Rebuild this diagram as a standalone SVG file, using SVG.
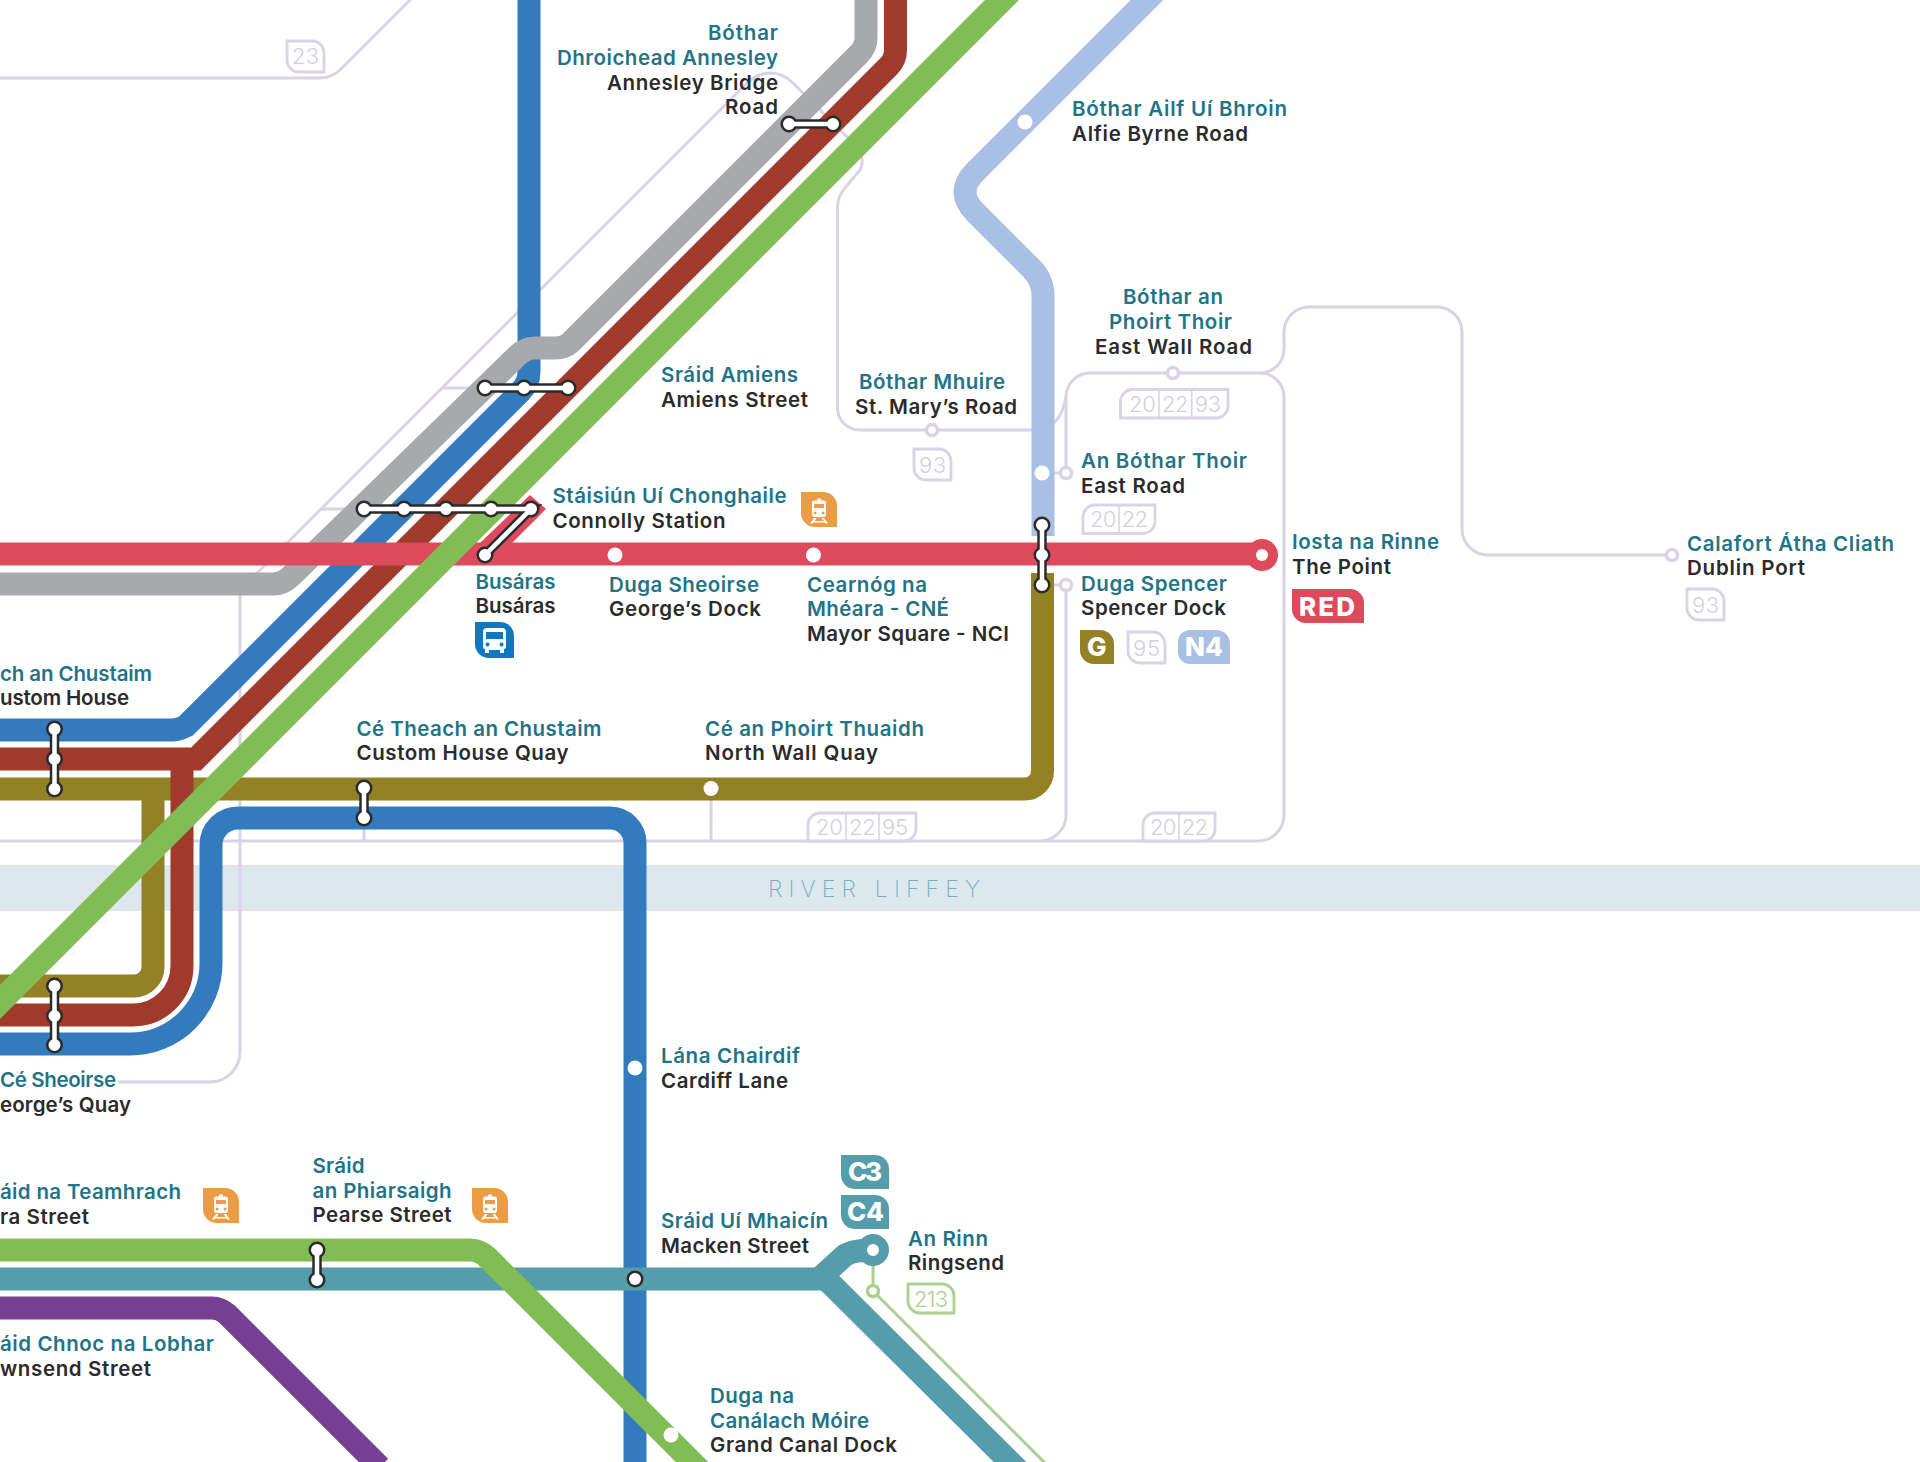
<svg xmlns="http://www.w3.org/2000/svg" xmlns:xlink="http://www.w3.org/1999/xlink" width="1920" height="1462" viewBox="0 0 1920 1462">
<style>
text{font-family:"Inter","Liberation Sans",sans-serif;font-size:20.5px;font-weight:600}
.g{fill:#1f7487}.e{fill:#2b2b2b}
.l{fill:none;stroke-width:23}
.t{fill:none;stroke:#dad2e7;stroke-width:3}
.r{fill:#fff;stroke:#dad2e7;stroke-width:3.5}
.tag{fill:#fff;stroke:#dad2e7;stroke-width:2.8}
.tt{fill:#d5cee3;font-size:22px;font-weight:300}
.wt{fill:#fff;font-size:26px;font-weight:800}
.a{fill:none;stroke:#2b2b2b;stroke-width:17;stroke-linecap:round}
.b{fill:none;stroke:#2b2b2b;stroke-width:9.5}
.c{fill:none;stroke:#fff;stroke-width:12;stroke-linecap:round}
.d{fill:none;stroke:#fff;stroke-width:4.5}
.w{fill:#fff}
</style>
<defs>
<path id="leaf" d="M0 0H25A12 12 0 0 1 37 12V31H12A12 12 0 0 1 0 19Z"/>
<g id="train">
<path d="M0 0H22A14 14 0 0 1 36 14V35H14A14 14 0 0 1 0 21Z" fill="#eb9c45"/>
<path class="w" d="M13.500 8.500H16V6.500H20V8.500H22.500Q25 8.500 25 11V22Q25 25 22.500 25H13.500Q11 25 11 22V11Q11 8.500 13.500 8.500ZM13 12V16H23V12ZM14 19.500A1.500 1.500 0 1 0 14.100 19.500ZM22 19.500A1.500 1.500 0 1 0 22.100 19.500ZM13 26H15.500L13.500 29H23L20.500 26H23L27 31.500H24.500L23.500 30.500H12.500L11.500 31.500H9Z"/>
</g>
<g id="bus">
<path d="M0 0H25A14 14 0 0 1 39 14V36H14A14 14 0 0 1 0 22Z" fill="#1078c2"/>
<path class="w" d="M12 6H27Q31 6 31 10V25Q31 27 29 27V31H25V28H14V31H10V27Q8 27 8 25V10Q8 6 12 6ZM11 10V17H28V10ZM12.500 20.500A2 2 0 1 0 12.600 20.500ZM26.500 20.500A2 2 0 1 0 26.600 20.500Z"/>
</g>
</defs>
<rect width="1920" height="1462" fill="#fff"/>
<rect id="river" x="0" y="865" width="1920" height="46" fill="#dde8ee"/>
<text x="768" y="897" textLength="212" style="font-size:23px;font-weight:200;fill:#72b1bc">RIVER LIFFEY</text>

<g id="connectors">
<g id="bus-routes">
<path class="t" d="M-5 78H320Q332 78 341 69L412 -2"/>
<path class="t" d="M237 593L745 85Q757 73 770 73Q783 73 793 83L855 145Q866 157 860 170L845 188Q837.500 196 837.500 208V408A22 22 0 0 0 859.500 430H1035Q1060 430 1066 397"/>
<path class="t" d="M240 595V1052A30 30 0 0 1 210 1082H118"/>
<path class="t" d="M442 388H468M321 509H346M1042 473H1066M1042 585H1066M364 829V841M711 789V841"/>
<path class="t" d="M0 841H1040A26 26 0 0 0 1066 815V585M1066 473V397A24 24 0 0 1 1090 373H1260A24 24 0 0 1 1284 397V815A26 26 0 0 1 1258 841H1040"/>
<path class="t" d="M1260 373A24 24 0 0 0 1284 349V332A25 25 0 0 1 1309 307H1437A25 25 0 0 1 1462 332V529A26 26 0 0 0 1488 555H1672"/>
<path d="M873 1250V1291L1047 1465" fill="none" stroke="#a9d18e" stroke-width="3"/>
</g>
<path class="l" stroke="#948126" d="M-10 789H1024A18 18 0 0 0 1042.500 771V573"/>
<path class="l" stroke="#948126" d="M-10 986H134A19 19 0 0 0 153 967V789"/>
<path class="l" stroke="#337bbd" d="M-10 730H172Q178 730 186 726L520 392Q529 383 529 372V-10"/>
<path class="l" stroke="#337bbd" d="M-10 1044H130A81 81 0 0 0 211 963V845A27 27 0 0 1 238 818H610A25 25 0 0 1 635 843V1472"/>
<path class="l" stroke="#a7a9ac" d="M-10 584H273Q283 584 291 576L517 356Q525 348 535 348H555Q565 348 571 342L859 54Q866 47 866 38V-10"/>
<path class="l" stroke="#a03b2b" d="M-10 759H196L889 66Q895.500 59.500 895.500 50V-10"/>
<path class="l" stroke="#a03b2b" d="M-10 1015H133A49 49 0 0 0 182 966V759"/>
<path fill="#dd4a5b" d="M480 543L530 495L546 509L512 543Z"/>
<path class="l" stroke="#dd4a5b" d="M-10 554H1262"/>
<path class="l" stroke="#a9bfe3" d="M1157 -10L975 172Q955 192 975 212L1031 268Q1043 280 1043 296V536"/>
<path class="l" stroke="#753f92" d="M-10 1308H212Q220 1308 227 1314L380 1467"/>
<path class="l" stroke="#559daa" d="M-10 1279H820Q826 1279 832 1285L1020 1472"/>
<path class="l" stroke="#559daa" d="M819 1279L844 1256Q852 1250 873 1250"/>
<path class="l" stroke="#82bc55" style="stroke-width:24" d="M1012 -10L-10 1012"/>
<path class="l" stroke="#82bc55" d="M-10 1250H470Q480 1250 488 1258L720 1490"/>
</g>

<g id="n-annesley"><text class="g" x="557" y="40" dx="151" textLength="70">Bóthar</text><text class="g" x="557" y="65" textLength="221">Dhroichead Annesley</text><text class="e" x="607" y="90" textLength="171">Annesley Bridge</text><text class="e" x="725" y="114" textLength="53">Road</text><path class="a" d="M789 124h0M833 124h0"/><path class="b" d="M789 124H833"/><path class="c" d="M789 124h0M833 124h0"/><path class="d" d="M789 124H833"/></g>
<g id="n-alfie"><circle class="w" cx="1025" cy="122" r="7.500"/><text class="g" x="1072" y="116" textLength="215">Bóthar Ailf Uí Bhroin</text><text class="e" x="1072" y="141" textLength="176">Alfie Byrne Road</text></g>
<g id="n-amiens"><text class="g" x="661" y="382" textLength="137">Sráid Amiens</text><text class="e" x="661" y="407" textLength="147">Amiens Street</text><path class="a" d="M485 388h0M524 388h0M568 388h0"/><path class="b" d="M485 388H568"/><path class="c" d="M485 388h0M524 388h0M568 388h0"/><path class="d" d="M485 388H568"/></g>
<g id="n-connolly"><text class="g" x="552.500" y="503" textLength="234">Stáisiún Uí Chonghaile</text><text class="e" x="552.500" y="528" textLength="173">Connolly Station</text><use href="#train" x="801" y="492"/><path class="a" d="M364 509h0M404 509h0M446 509h0M491 509h0M531 509h0M485 555h0"/><path class="b" d="M364 509H531L485 555"/><path class="c" d="M364 509h0M404 509h0M446 509h0M491 509h0M531 509h0M485 555h0"/><path class="d" d="M364 509H531L485 555"/></g>
<g id="n-busaras"><text class="g" x="475.500" y="589" textLength="80">Busáras</text><text class="e" x="475.500" y="613" textLength="80">Busáras</text><use href="#bus" x="475" y="622"/></g>
<g id="n-georges-dock"><circle class="w" cx="615" cy="555" r="7.500"/><text class="g" x="609" y="592" textLength="150">Duga Sheoirse</text><text class="e" x="609" y="616" textLength="152">George’s Dock</text></g>
<g id="n-mayor"><circle class="w" cx="813.500" cy="555" r="7.500"/><text class="g" x="807" y="592" textLength="120">Cearnóg na</text><text class="g" x="807" y="616" textLength="142">Mhéara - CNÉ</text><text class="e" x="807" y="641" textLength="202">Mayor Square - NCI</text></g>
<g id="n-stmary"><circle class="r" cx="932" cy="430" r="5.500"/><text class="g" x="859" y="389" textLength="146">Bóthar Mhuire</text><text class="e" x="855" y="414" textLength="162">St. Mary’s Road</text><use href="#leaf" class="tag" x="914" y="449"/><text class="tt" x="919" y="473" textLength="27">93</text></g>
<g id="n-eastwall"><circle class="r" cx="1173" cy="373" r="5.500"/><text class="g" x="1123" y="304" textLength="100">Bóthar an</text><text class="g" x="1109" y="329" textLength="123">Phoirt Thoir</text><text class="e" x="1095" y="354" textLength="157">East Wall Road</text><path class="tag" d="M1132 389.500H1228V406A12 12 0 0 1 1216 418H1120.500V401.500A12 12 0 0 1 1132 389.500Z"/><text class="tt" x="1129" y="411.500" textLength="92">20|22|93</text></g>
<g id="n-eastroad"><circle class="w" cx="1042" cy="473" r="7.500"/><circle class="r" cx="1066" cy="473" r="5.500"/><text class="g" x="1081" y="468" textLength="166">An Bóthar Thoir</text><text class="e" x="1081" y="493" textLength="104">East Road</text><path class="tag" d="M1095 505H1155V521A12 12 0 0 1 1143 533.500H1083V517A12 12 0 0 1 1095 505Z"/><text class="tt" x="1090" y="527" textLength="58">20|22</text></g>
<g id="n-spencer"><path class="a" d="M1042 525h0M1042 555h0M1042 585h0"/><path class="b" d="M1042 525V585"/><path class="c" d="M1042 525h0M1042 555h0M1042 585h0"/><path class="d" d="M1042 525V585"/><circle class="r" cx="1066" cy="585" r="5.500"/><text class="g" x="1081" y="591" textLength="146">Duga Spencer</text><text class="e" x="1081" y="615" textLength="145">Spencer Dock</text>
<path d="M1080 630H1100A14 14 0 0 1 1114 644V664H1094A14 14 0 0 1 1080 650Z" fill="#948126"/><text class="wt" x="1087" y="656">G</text>
<use href="#leaf" class="tag" x="1128" y="632"/><text class="tt" x="1133" y="655.500" textLength="27">95</text>
<path d="M1190 630H1216A14 14 0 0 1 1230 644V664H1190A12 12 0 0 1 1178 652V642A12 12 0 0 1 1190 630Z" fill="#a9bfe3"/><text class="wt" x="1185" y="656" textLength="38">N4</text></g>
<g id="n-point"><circle cx="1262" cy="555" r="16" fill="#dd4a5b"/><circle class="w" cx="1262" cy="555" r="6"/><text class="g" x="1292" y="549" textLength="147">Iosta na Rinne</text><text class="e" x="1292" y="574" textLength="99">The Point</text><path d="M1292 589H1350A14 14 0 0 1 1364 603V623H1306A14 14 0 0 1 1292 609Z" fill="#dd4a5b"/><text class="wt" x="1299" y="615.500" textLength="56">RED</text></g>
<g id="n-dublinport"><circle class="r" cx="1672" cy="555" r="5.500"/><text class="g" x="1687" y="551" textLength="207">Calafort Átha Cliath</text><text class="e" x="1687" y="575" textLength="118">Dublin Port</text><use href="#leaf" class="tag" x="1687" y="589"/><text class="tt" x="1692" y="613" textLength="27">93</text></g>
<g id="n-23"><use href="#leaf" class="tag" x="287" y="41"/><text class="tt" x="292" y="64" textLength="27">23</text></g>
<g id="n-customhouse"><text class="g" x="0" y="681" textLength="152">ch an Chustaim</text><text class="e" x="0" y="705" textLength="129">ustom House</text><path class="a" d="M54.500 729h0M54.500 759h0M54.500 789h0"/><path class="b" d="M54.500 729V789"/><path class="c" d="M54.500 729h0M54.500 759h0M54.500 789h0"/><path class="d" d="M54.500 729V789"/></g>
<g id="n-customquay"><text class="g" x="356.500" y="736" textLength="245">Cé Theach an Chustaim</text><text class="e" x="356.500" y="760" textLength="212">Custom House Quay</text><path class="a" d="M364 788h0M364 818h0"/><path class="b" d="M364 788V818"/><path class="c" d="M364 788h0M364 818h0"/><path class="d" d="M364 788V818"/></g>
<g id="n-northwall"><circle class="w" cx="711" cy="788.500" r="7.500"/><text class="g" x="705" y="736" textLength="219">Cé an Phoirt Thuaidh</text><text class="e" x="705" y="760" textLength="173">North Wall Quay</text></g>
<g id="n-tags-bottom"><path class="tag" d="M820 813H916V829A12 12 0 0 1 904 841H808V825A12 12 0 0 1 820 813Z"/><text class="tt" x="816" y="834.500" textLength="92">20|22|95</text><path class="tag" d="M1155 813H1215V829A12 12 0 0 1 1203 841H1143V825A12 12 0 0 1 1155 813Z"/><text class="tt" x="1150" y="834.500" textLength="58">20|22</text></g>
<g id="n-georges-quay"><path class="a" d="M54.500 986h0M54.500 1016h0M54.500 1045h0"/><path class="b" d="M54.500 986V1045"/><path class="c" d="M54.500 986h0M54.500 1016h0M54.500 1045h0"/><path class="d" d="M54.500 986V1045"/><text class="g" x="0" y="1087" textLength="116">Cé Sheoirse</text><text class="e" x="0" y="1112" textLength="131">eorge’s Quay</text></g>
<g id="n-cardiff"><circle class="w" cx="635" cy="1068" r="7.500"/><text class="g" x="661" y="1063" textLength="139">Lána Chairdif</text><text class="e" x="661" y="1088" textLength="127">Cardiff Lane</text></g>
<g id="n-tara"><text class="g" x="0" y="1199" textLength="181">áid na Teamhrach</text><text class="e" x="0" y="1224" textLength="89">ra Street</text><use href="#train" x="203" y="1188"/></g>
<g id="n-pearse"><text class="g" x="312.500" y="1173" textLength="52">Sráid</text><text class="g" x="312.500" y="1198" textLength="139">an Phiarsaigh</text><text class="e" x="312.500" y="1222" textLength="139">Pearse Street</text><use href="#train" x="472" y="1188"/><path class="a" d="M317 1250h0M317 1280h0"/><path class="b" d="M317 1250V1280"/><path class="c" d="M317 1250h0M317 1280h0"/><path class="d" d="M317 1250V1280"/></g>
<g id="n-macken"><path class="a" d="M635 1279h0"/><path class="c" d="M635 1279h0"/><text class="g" x="661" y="1228" textLength="167">Sráid Uí Mhaicín</text><text class="e" x="661" y="1253" textLength="148">Macken Street</text>
<path d="M841 1155H875A14 14 0 0 1 889 1169V1189H855A14 14 0 0 1 841 1175Z" fill="#559daa"/><text class="wt" x="848" y="1181" textLength="34">C3</text>
<path d="M841 1195H875A14 14 0 0 1 889 1209V1229H855A14 14 0 0 1 841 1215Z" fill="#559daa"/><text class="wt" x="847" y="1221" textLength="37">C4</text></g>
<g id="n-ringsend"><circle cx="873" cy="1250" r="16" fill="#559daa"/><circle class="w" cx="873" cy="1250" r="6"/><circle cx="873" cy="1291" r="5.500" fill="#fff" stroke="#a9d18e" stroke-width="3.500"/><text class="g" x="908" y="1246" textLength="80">An Rinn</text><text class="e" x="908" y="1270" textLength="96">Ringsend</text><path d="M908 1284H942A12 12 0 0 1 954 1296V1313H920A12 12 0 0 1 908 1301Z" fill="#fff" stroke="#a9d18e" stroke-width="2.800"/><text x="914" y="1306.500" textLength="34" style="fill:#a9d18e;font-size:22px;font-weight:300">213</text></g>
<g id="n-townsend"><text class="g" x="0" y="1351" textLength="214">áid Chnoc na Lobhar</text><text class="e" x="0" y="1376" textLength="151">wnsend Street</text></g>
<g id="n-grandcanal"><circle class="w" cx="671" cy="1435" r="7.500"/><text class="g" x="710" y="1403" textLength="84">Duga na</text><text class="g" x="710" y="1428" textLength="159">Canálach Móire</text><text class="e" x="710" y="1452" textLength="187">Grand Canal Dock</text></g>
</svg>
